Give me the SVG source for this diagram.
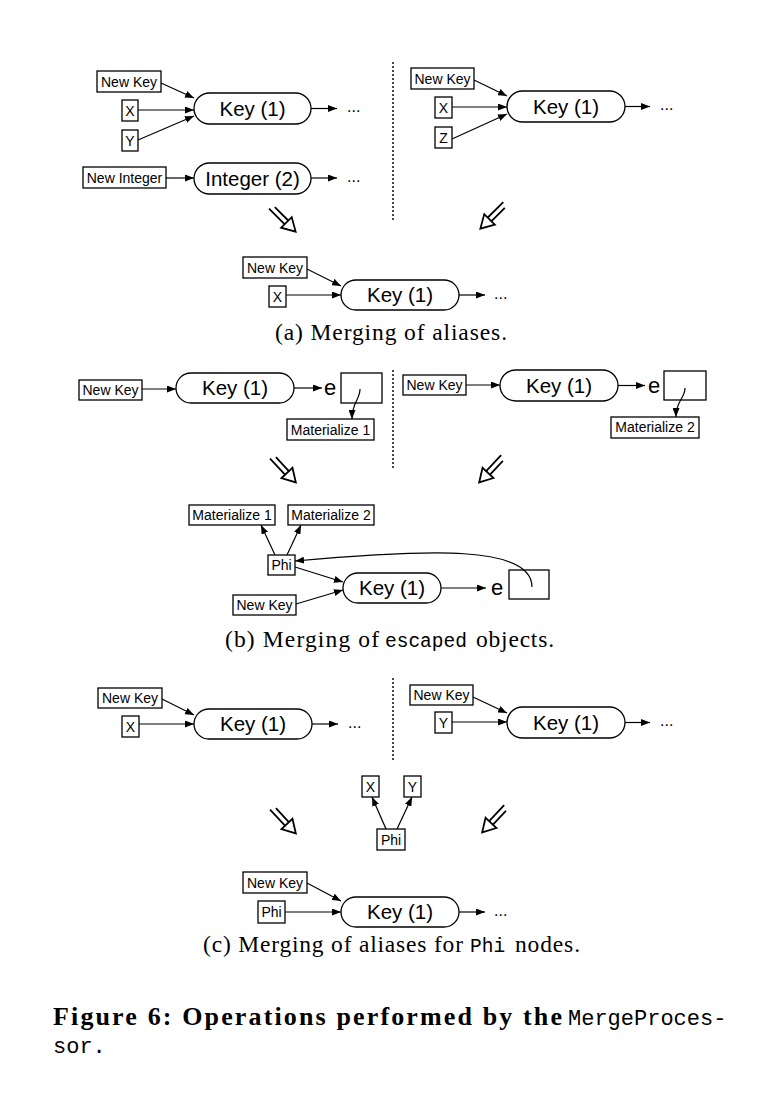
<svg xmlns="http://www.w3.org/2000/svg" xmlns:xlink="http://www.w3.org/1999/xlink" width="769" height="1097" viewBox="0 0 769 1097">
<style>
.bg{fill:#ffffff}
.box{fill:#ffffff;stroke:#000;stroke-width:1.3}
.key{fill:#ffffff;stroke:#000;stroke-width:1.3}
.lbl{font-family:"Liberation Sans",Arial,sans-serif;font-size:14px;fill:#000;text-anchor:middle}
.big{font-family:"Liberation Sans",Arial,sans-serif;font-size:20.5px;fill:#000;text-anchor:middle}
.e{font-family:"Liberation Sans",Arial,sans-serif;font-size:22px;fill:#000}
.dots{font-family:"Liberation Sans",Arial,sans-serif;font-size:16px;fill:#000}
.edge{fill:none;stroke:#000;stroke-width:1.2;marker-end:url(#ah)}
.dotted{fill:none;stroke:#000;stroke-width:1.4;stroke-dasharray:2,2}
.cap{font-family:"Liberation Serif","Times New Roman",serif;font-size:23.5px;fill:#000}
.tt{font-family:"Liberation Mono","Courier New",monospace;font-size:19.5px;fill:#000}
.fig{font-family:"Liberation Serif","Times New Roman",serif;font-size:26px;font-weight:bold;fill:#000}
.figtt{font-family:"Liberation Mono","Courier New",monospace;font-size:22px;font-weight:normal;fill:#000}
.hs{fill:none;stroke:#000;stroke-width:1.8}
.hh{fill:#fff;stroke:#000;stroke-width:1.8;stroke-linejoin:miter}
</style>
<defs>
<marker id="ah" viewBox="0 0 9 7" refX="9" refY="3.5" markerWidth="9" markerHeight="7" markerUnits="userSpaceOnUse" orient="auto">
<path d="M0,0 L9,3.5 L0,7 z" fill="#000"/>
</marker>
<g id="ha">
<path class="hs" d="M0,-2.6 H21 M-3,2.6 H21"/>
<path class="hh" d="M19,-7.5 L32,0 L19,7.5 Z"/>
</g>
</defs>
<rect class="bg" x="0" y="0" width="769" height="1097"/>

<!-- ===== (a) ===== -->
<g id="a-newkey-l"><rect class="box" x="97" y="71" width="64" height="21"/><text class="lbl" x="129" y="86.5">New Key</text></g>
<g id="a-x-l"><rect class="box" x="122" y="100" width="16" height="21"/><text class="lbl" x="130" y="115.5">X</text></g>
<g id="a-y-l"><rect class="box" x="122" y="130" width="16" height="21"/><text class="lbl" x="130" y="145.5">Y</text></g>
<g id="a-key-l"><rect class="key" x="194" y="93" width="117" height="31" rx="15.5"/><text class="big" x="252.5" y="115.5">Key (1)</text></g>
<g id="a-dots-l1"><text class="dots" x="347" y="112">...</text></g>
<g id="a-newint"><rect class="box" x="83" y="167" width="83" height="21"/><text class="lbl" x="124.5" y="182.5">New Integer</text></g>
<g id="a-int"><rect class="key" x="194" y="163" width="117" height="31" rx="15.5"/><text class="big" x="252.5" y="185.5">Integer (2)</text></g>
<g id="a-dots-l2"><text class="dots" x="347" y="181.5">...</text></g>

<g id="a-newkey-r"><rect class="box" x="411" y="68" width="63" height="21"/><text class="lbl" x="442.5" y="83.5">New Key</text></g>
<g id="a-x-r"><rect class="box" x="435" y="97" width="17" height="21"/><text class="lbl" x="443.5" y="112.5">X</text></g>
<g id="a-z-r"><rect class="box" x="435" y="127" width="17" height="21"/><text class="lbl" x="443.5" y="142.5">Z</text></g>
<g id="a-key-r"><rect class="key" x="507" y="91" width="118" height="31" rx="15.5"/><text class="big" x="566" y="113.5">Key (1)</text></g>
<g id="a-dots-r"><text class="dots" x="660" y="110">...</text></g>

<g id="a-newkey-m"><rect class="box" x="243" y="257" width="64" height="21"/><text class="lbl" x="275" y="272.5">New Key</text></g>
<g id="a-x-m"><rect class="box" x="269" y="286" width="17" height="21"/><text class="lbl" x="277.5" y="301.5">X</text></g>
<g id="a-key-m"><rect class="key" x="341" y="280" width="118" height="30" rx="15"/><text class="big" x="400" y="302">Key (1)</text></g>
<g id="a-dots-m"><text class="dots" x="494" y="298.5">...</text></g>
<text class="cap" x="275" y="340" textLength="232">(a) Merging of aliases.</text>

<!-- ===== (b) ===== -->
<g id="b-newkey-l"><rect class="box" x="79" y="380" width="63" height="20"/><text class="lbl" x="110.5" y="395">New Key</text></g>
<g id="b-key-l"><rect class="key" x="176" y="373" width="118" height="30" rx="15"/><text class="big" x="235" y="395">Key (1)</text></g>
<g id="b-e-l"><text class="e" x="324" y="395">e</text><rect class="box" x="341" y="373" width="41" height="30"/></g>
<g id="b-mat1-l"><rect class="box" x="287" y="419" width="87" height="21"/><text class="lbl" x="330.5" y="434.5">Materialize 1</text></g>

<g id="b-newkey-r"><rect class="box" x="403" y="375" width="63" height="20"/><text class="lbl" x="434.5" y="390">New Key</text></g>
<g id="b-key-r"><rect class="key" x="500" y="370" width="118" height="31" rx="15.5"/><text class="big" x="559" y="392.5">Key (1)</text></g>
<g id="b-e-r"><text class="e" x="648" y="392.5">e</text><rect class="box" x="664" y="371" width="42" height="29"/></g>
<g id="b-mat2-r"><rect class="box" x="611" y="417" width="88" height="21"/><text class="lbl" x="655" y="432">Materialize 2</text></g>

<g id="b-mat1-m"><rect class="box" x="189" y="505" width="86" height="20"/><text class="lbl" x="232" y="520">Materialize 1</text></g>
<g id="b-mat2-m"><rect class="box" x="288" y="505" width="86" height="20"/><text class="lbl" x="331" y="520">Materialize 2</text></g>
<g id="b-phi-m"><rect class="box" x="268" y="555" width="27" height="20"/><text class="lbl" x="281.5" y="570">Phi</text></g>
<g id="b-newkey-m"><rect class="box" x="233" y="595" width="63" height="20"/><text class="lbl" x="264.5" y="610">New Key</text></g>
<g id="b-key-m"><rect class="key" x="343" y="573" width="98" height="30" rx="15"/><text class="big" x="392" y="595">Key (1)</text></g>
<g id="b-e-m"><text class="e" x="491" y="595">e</text><rect class="box" x="509" y="570" width="40" height="29"/></g>
<text class="cap" y="647"><tspan x="225" textLength="154">(b) Merging of</tspan><tspan class="tt" x="385">escaped</tspan><tspan x="476" textLength="78">objects.</tspan></text>

<!-- ===== (c) ===== -->
<g id="c-newkey-l"><rect class="box" x="98" y="688" width="64" height="20"/><text class="lbl" x="130" y="703">New Key</text></g>
<g id="c-x-l"><rect class="box" x="122" y="716" width="17" height="21"/><text class="lbl" x="130.5" y="731.5">X</text></g>
<g id="c-key-l"><rect class="key" x="194" y="709" width="118" height="30" rx="15"/><text class="big" x="253" y="731">Key (1)</text></g>
<g id="c-dots-l"><text class="dots" x="348" y="727.5">...</text></g>

<g id="c-newkey-r"><rect class="box" x="410" y="685" width="63" height="20"/><text class="lbl" x="441.5" y="700">New Key</text></g>
<g id="c-y-r"><rect class="box" x="435" y="712" width="17" height="21"/><text class="lbl" x="443.5" y="727.5">Y</text></g>
<g id="c-key-r"><rect class="key" x="507" y="707" width="118" height="31" rx="15.5"/><text class="big" x="566" y="729.5">Key (1)</text></g>
<g id="c-dots-r"><text class="dots" x="660" y="726">...</text></g>

<g id="c-x-m"><rect class="box" x="362" y="776" width="17" height="21"/><text class="lbl" x="370.5" y="791.5">X</text></g>
<g id="c-y-m"><rect class="box" x="404" y="776" width="17" height="21"/><text class="lbl" x="412.5" y="791.5">Y</text></g>
<g id="c-phi-m"><rect class="box" x="377" y="829" width="28" height="21"/><text class="lbl" x="391" y="844.5">Phi</text></g>

<g id="c-newkey-b"><rect class="box" x="243" y="872" width="64" height="21"/><text class="lbl" x="275" y="887.5">New Key</text></g>
<g id="c-phi-b"><rect class="box" x="258" y="901" width="27" height="22"/><text class="lbl" x="271.5" y="917">Phi</text></g>
<g id="c-key-b"><rect class="key" x="341" y="897" width="118" height="30" rx="15"/><text class="big" x="400" y="919">Key (1)</text></g>
<g id="c-dots-b"><text class="dots" x="494" y="915.5">...</text></g>
<text class="cap" y="952"><tspan x="203" textLength="260">(c) Merging of aliases for</tspan><tspan class="tt" x="470">Phi</tspan><tspan x="515" textLength="65">nodes.</tspan></text>

<!-- ===== connectors ===== -->
<g id="connectors">
<path class="edge" d="M161,83 L194,98"/>
<path class="edge" d="M138,110 L194,110"/>
<path class="edge" d="M138,140 L194,116"/>
<path class="edge" d="M311,108.5 L337,108.5"/>
<path class="edge" d="M166,178 L194,178"/>
<path class="edge" d="M311,178 L337,178"/>
<path class="edge" d="M474,80 L507,96"/>
<path class="edge" d="M452,107 L507,107"/>
<path class="edge" d="M452,139 L507,114"/>
<path class="edge" d="M625,106.5 L650,106.5"/>
<path class="edge" d="M307,269 L341,286"/>
<path class="edge" d="M286,295 L341,295"/>
<path class="edge" d="M459,295 L485,295"/>

<path class="edge" d="M142,389 L176,389"/>
<path class="edge" d="M294,388 L322,388"/>
<path class="edge" d="M360,389 C360,400 352,402 352,419"/>
<path class="edge" d="M466,385 L500,385"/>
<path class="edge" d="M618,385.5 L645,385.5"/>
<path class="edge" d="M685,388 C685,399 676,400 676,417"/>
<path class="edge" d="M275,555 L261,525"/>
<path class="edge" d="M287,555 L301,525"/>
<path class="edge" d="M295,567 L343,582"/>
<path class="edge" d="M296,604 L343,590"/>
<path class="edge" d="M441,588 L486,588"/>
<path class="edge" d="M532,587 C532,545 430,549 295,561"/>

<path class="edge" d="M162,699 L194,715"/>
<path class="edge" d="M139,724 L194,724"/>
<path class="edge" d="M312,724 L338,724"/>
<path class="edge" d="M473,697 L507,713"/>
<path class="edge" d="M452,722 L507,722"/>
<path class="edge" d="M625,722.5 L650,722.5"/>
<path class="edge" d="M386,829 L372,797"/>
<path class="edge" d="M397,829 L412,797"/>
<path class="edge" d="M307,883 L341,901"/>
<path class="edge" d="M285,912 L341,912"/>
<path class="edge" d="M459,912 L485,912"/>

<path class="dotted" d="M393,62 L393,222"/>
<path class="dotted" d="M393,370 L393,470"/>
<path class="dotted" d="M393,678 L393,762"/>

<use xlink:href="#ha" href="#ha" transform="translate(273,209) rotate(45)"/>
<use xlink:href="#ha" href="#ha" transform="translate(503,206) rotate(135)"/>
<use xlink:href="#ha" href="#ha" transform="translate(274,459) rotate(47)"/>
<use xlink:href="#ha" href="#ha" transform="translate(501,459) rotate(133)"/>
<use xlink:href="#ha" href="#ha" transform="translate(274,810) rotate(47)"/>
<use xlink:href="#ha" href="#ha" transform="translate(504,809) rotate(133)"/>
</g>

<!-- ===== figure caption ===== -->
<text class="fig" x="53" y="1025" textLength="509">Figure 6: Operations performed by the</text>
<text class="figtt" x="568" y="1025">MergeProces-</text>
<text class="figtt" x="53" y="1053">sor.</text>
</svg>
